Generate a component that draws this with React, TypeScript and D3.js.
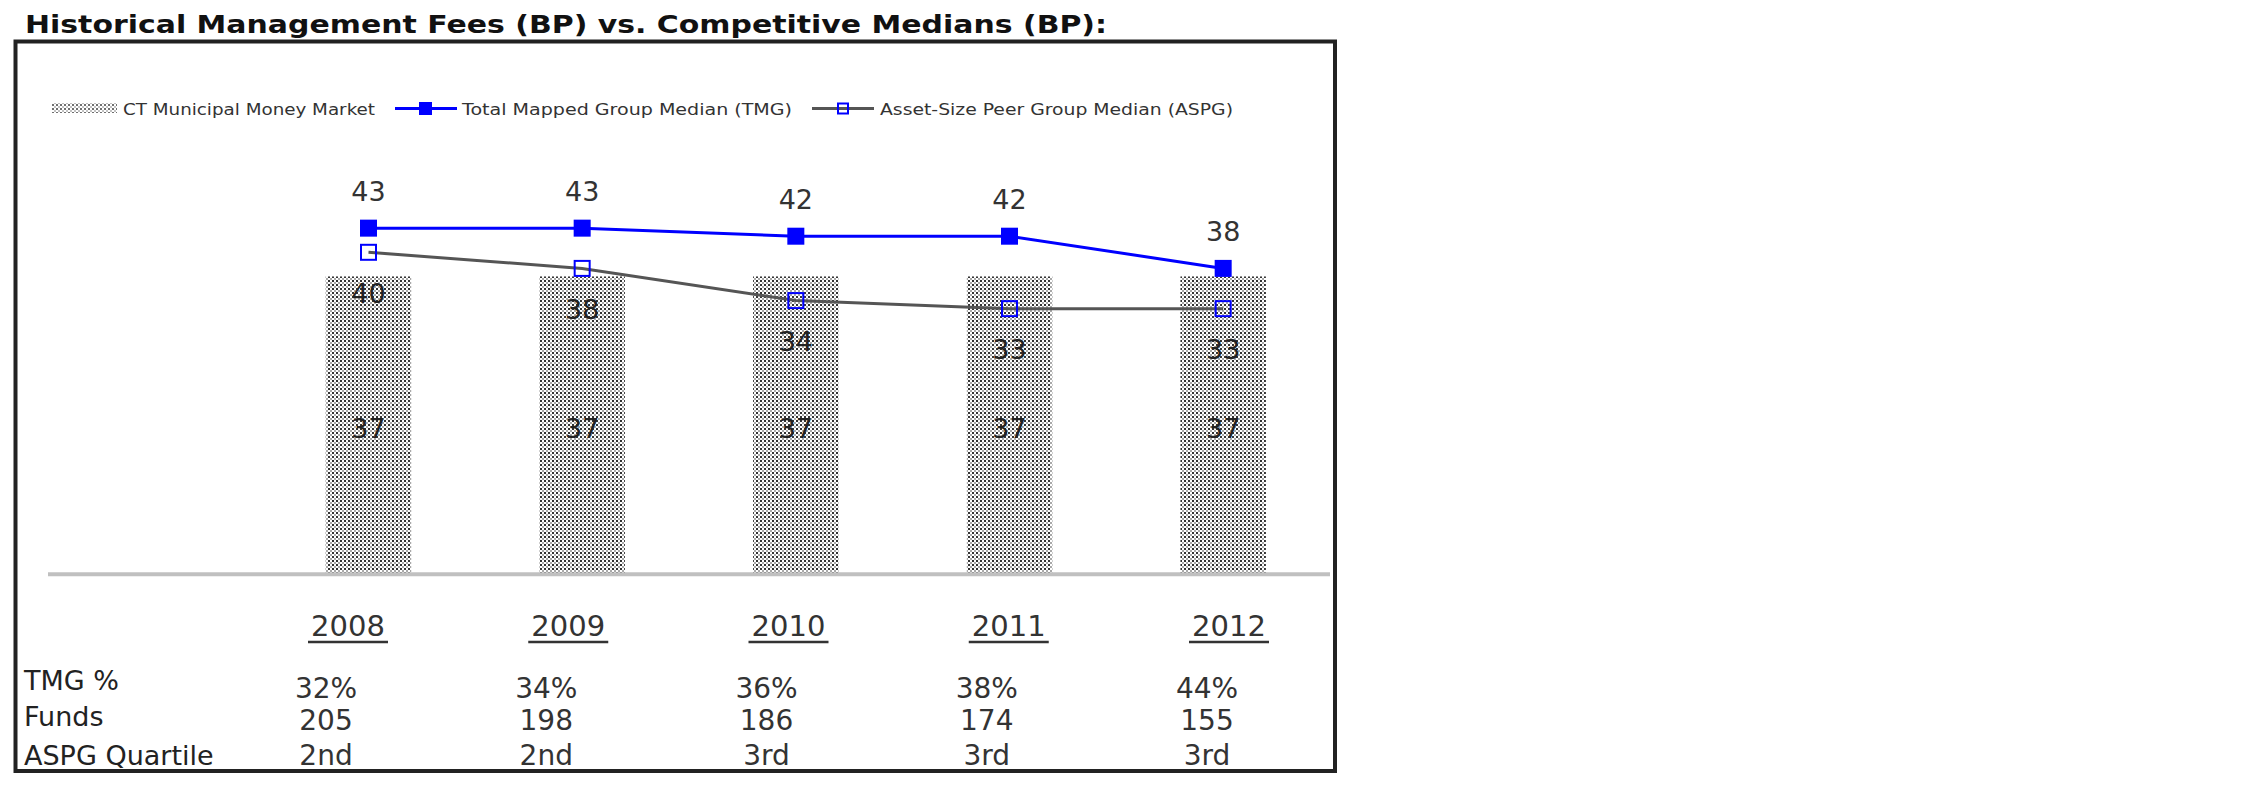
import React from "react";
import * as d3 from "d3";

const years = ["2008", "2009", "2010", "2011", "2012"];
const ctFees = [37, 37, 37, 37, 37];
const tmgMedian = [43, 43, 42, 42, 38];
const aspgMedian = [40, 38, 34, 33, 33];
const tmgPct = ["32%", "34%", "36%", "38%", "44%"];
const funds = ["205", "198", "186", "174", "155"];
const aspgQuartile = ["2nd", "2nd", "3rd", "3rd", "3rd"];
const rowLabels = ["TMG %", "Funds", "ASPG Quartile"];
const legendLabels = [
  "CT Municipal Money Market",
  "Total Mapped Group Median (TMG)",
  "Asset-Size Peer Group Median (ASPG)",
];
const title = "Historical Management Fees (BP) vs. Competitive Medians (BP):";

const W = 2250;
const H = 796;
const FONT = "Verdana, 'DejaVu Sans', sans-serif";

export default function App() {
  const axisLeft = 48;
  const axisRight = 1330;
  const baseY = 574.3;
  const x = d3
    .scaleBand<string>()
    .domain(years)
    .range([axisLeft + (axisRight - axisLeft) / 6, axisRight])
    .paddingInner(0.6)
    .paddingOuter(0.3);
  const y = d3.scaleLinear().domain([0, 50]).range([baseY, baseY - 50 * 8.05]);
  const cx = (d: string) => (x(d) as number) + x.bandwidth() / 2;

  const line = d3
    .line<number>()
    .x((_, i) => cx(years[i]))
    .y((v) => y(v));

  const colX = d3.scalePoint<string>().domain(years).range([326, 1207]);
  const rows = [tmgPct, funds, aspgQuartile];
  const rowBase = [698, 730, 765];
  const labelBase = [690, 726, 765];

  const tmgSize = 17;
  const aspgSize = 15;

  return (
    <svg
      width={W}
      height={H}
      style={{ position: "absolute", left: 0, top: 0, display: "block", background: "#fff" }}
      fontFamily={FONT}
    >
      <defs>
        <pattern id="dots" width={4} height={4} patternUnits="userSpaceOnUse">
          <rect width={4} height={4} fill="#fff" />
          <rect x={0} y={0} width={2} height={2} fill="#333" />
          <rect x={2} y={2} width={2} height={2} fill="#a8a8a8" />
        </pattern>
      </defs>

      <text x={25} y={33} fontSize={24} fontWeight="bold" fill="#111" textLength={1082} lengthAdjust="spacingAndGlyphs">
        {title}
      </text>

      <rect x={15.5} y={41.5} width={1319.5} height={729.5} fill="none" stroke="#222" strokeWidth={4} />

      {/* legend */}
      <g fontSize={16} fill="#333">
        <rect x={52} y={103} width={65} height={10} fill="url(#dots)" opacity={0.7} />
        <text x={123} y={115} textLength={252} lengthAdjust="spacingAndGlyphs">{legendLabels[0]}</text>
        <line x1={395} x2={457} y1={108.5} y2={108.5} stroke="#0000ff" strokeWidth={3} />
        <rect x={419} y={102} width={13} height={13} fill="#0000ff" />
        <text x={462} y={115} textLength={330} lengthAdjust="spacingAndGlyphs">{legendLabels[1]}</text>
        <line x1={812} x2={874} y1={108.5} y2={108.5} stroke="#555" strokeWidth={3} />
        <rect x={838} y={103.5} width={10} height={10} fill="none" stroke="#0000ff" strokeWidth={2} />
        <text x={880} y={115} textLength={353} lengthAdjust="spacingAndGlyphs">{legendLabels[2]}</text>
      </g>

      {/* bars */}
      {years.map((yr, i) => (
        <rect
          key={"b" + yr}
          x={x(yr)}
          y={y(ctFees[i])}
          width={x.bandwidth()}
          height={baseY - y(ctFees[i])}
          fill="url(#dots)"
        />
      ))}
      <line x1={axisLeft} x2={axisRight} y1={baseY} y2={baseY} stroke="#c0c0c0" strokeWidth={4} />

      {/* bar labels */}
      {years.map((yr, i) => (
        <text key={"bl" + yr} x={cx(yr)} y={(y(ctFees[i]) + baseY) / 2 + 3} dy="0.35em" textAnchor="middle" fontSize={27} fill="#222">
          {ctFees[i]}
        </text>
      ))}

      {/* lines */}
      <path d={line(aspgMedian) || ""} fill="none" stroke="#555" strokeWidth={3} />
      <path d={line(tmgMedian) || ""} fill="none" stroke="#0000ff" strokeWidth={3} />

      {years.map((yr, i) => (
        <rect
          key={"tm" + yr}
          x={cx(yr) - tmgSize / 2}
          y={y(tmgMedian[i]) - tmgSize / 2}
          width={tmgSize}
          height={tmgSize}
          fill="#0000ff"
        />
      ))}
      {years.map((yr, i) => (
        <rect
          key={"am" + yr}
          x={cx(yr) - aspgSize / 2}
          y={y(aspgMedian[i]) - aspgSize / 2}
          width={aspgSize}
          height={aspgSize}
          fill="none"
          stroke="#0000ff"
          strokeWidth={2}
        />
      ))}

      {years.map((yr, i) => (
        <text key={"tl" + yr} x={cx(yr)} y={y(tmgMedian[i]) - 37} dy="0.35em" textAnchor="middle" fontSize={27} fill="#333">
          {tmgMedian[i]}
        </text>
      ))}
      {years.map((yr, i) => (
        <text key={"al" + yr} x={cx(yr)} y={y(aspgMedian[i]) + 41} dy="0.35em" textAnchor="middle" fontSize={27} fill="#222">
          {aspgMedian[i]}
        </text>
      ))}

      {/* table */}
      {years.map((yr) => {
        const c = (colX(yr) as number) + 22;
        return (
          <g key={"yr" + yr}>
            <text x={c} y={636} textAnchor="middle" fontSize={29} fill="#333">{yr}</text>
            <line x1={c - 40} x2={c + 40} y1={642} y2={642} stroke="#333" strokeWidth={2.5} />
          </g>
        );
      })}
      {rowLabels.map((lab, r) => (
        <text key={"rl" + r} x={24} y={labelBase[r]} fontSize={27} fill="#222">{lab}</text>
      ))}
      {rows.map((row, r) =>
        years.map((yr, i) => (
          <text key={"rv" + r + yr} x={colX(yr)} y={rowBase[r]} textAnchor="middle" fontSize={28} fill="#333">
            {row[i]}
          </text>
        ))
      )}
    </svg>
  );
}
